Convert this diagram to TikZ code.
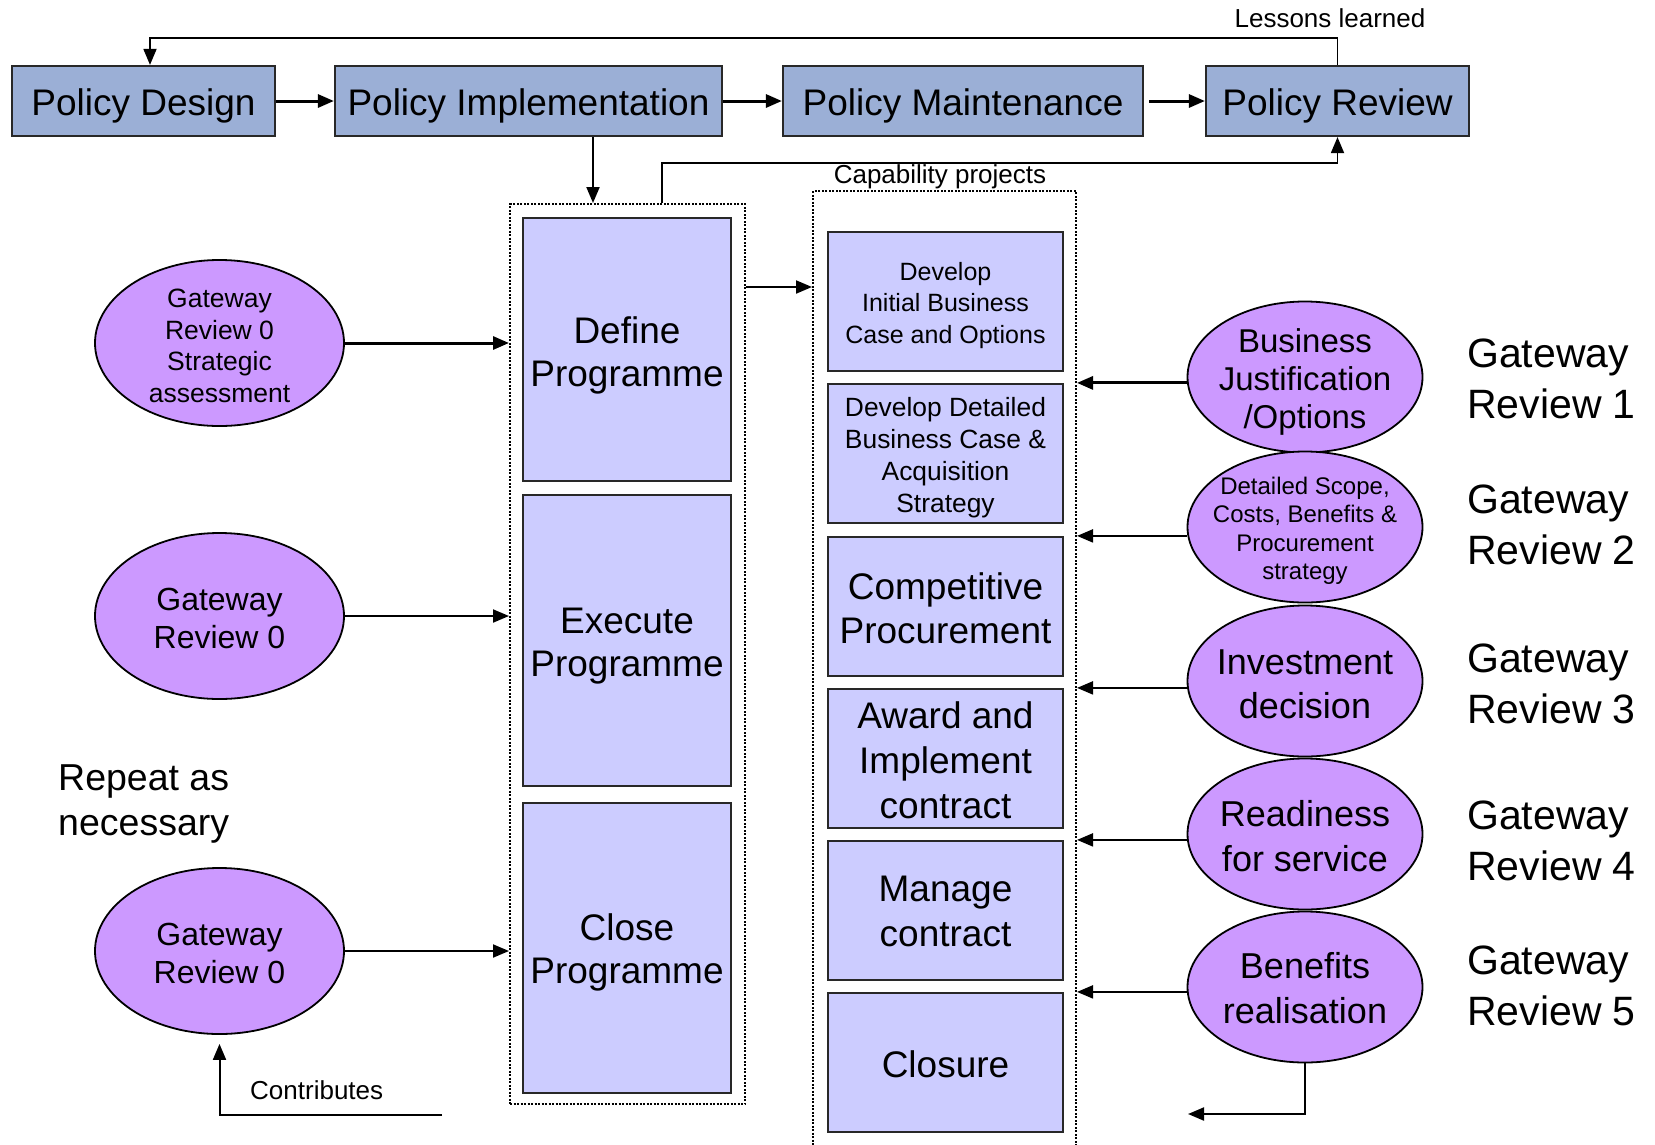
\documentclass[tikz,border=0pt]{standalone}
\usepackage{fontspec}
\setmainfont{Liberation Sans}
\usetikzlibrary{arrows.meta,shapes.geometric}
\definecolor{topfill}{RGB}{155,175,214}
\definecolor{progfill}{RGB}{204,204,255}
\definecolor{ellfill}{RGB}{204,153,255}
\definecolor{edgegray}{RGB}{40,40,40}
\newcommand{\fsz}[2]{\fontsize{#1}{#2}\selectfont}
\begin{document}
\begin{tikzpicture}[x=1pt,y=-1pt,
  topbox/.style={draw=edgegray,fill=topfill,line width=2.2pt,inner sep=0pt,minimum height=70pt},
  progbox/.style={draw=edgegray,fill=progfill,line width=2.2pt,inner sep=0pt},
  gate/.style={ellipse,draw=black,fill=ellfill,line width=1.8pt,inner sep=0pt},
  gtext/.style={inner sep=0pt,align=center},
  container/.style={draw=black,line width=2pt,dash pattern=on 2pt off 1.5pt},
  conn/.style={line width=2pt,-{Triangle[length=16pt,width=13pt]}},
  thickconn/.style={conn,line width=3pt},
  thinline/.style={line width=1.8pt,-{Triangle[length=16pt,width=13pt]}},
  lbl/.style={inner sep=0pt,align=left},
]
\useasboundingbox (0,0) rectangle (1655,1144);

% top row
\node[topbox,minimum width=263pt] (PD) at (143.5,101) {};
\node[gtext,font=\fsz{37}{44},yshift=-5pt] (PDt) at (PD) {Policy Design};
\node[topbox,minimum width=387pt] (PI) at (528.5,101) {};
\node[gtext,font=\fsz{37}{44},yshift=-5pt] (PIt) at (PI) {Policy Implementation};
\node[topbox,minimum width=360pt] (PM) at (963,101) {};
\node[gtext,font=\fsz{37}{44},yshift=-5pt] (PMt) at (PM) {Policy Maintenance};
\node[topbox,minimum width=263pt] (PR) at (1337.5,101) {};
\node[gtext,font=\fsz{37}{44},yshift=-5pt] (PRt) at (PR) {Policy Review};

\draw[thickconn] (PD.east) -- (PI.west);
\draw[thickconn] (PI.east) -- (PM.west);
\draw[thickconn,shorten <=5pt] (PM.east) -- (PR.west);

\coordinate (LLc) at (150,38);
\draw[thinline] (PR.north) |- (LLc) -- (LLc |- PD.north);
\node[lbl,anchor=base,font=\fsz{26}{30}] (LLt) at (1330,27) {Lessons learned};

% containers
\node[container,minimum width=235pt,minimum height=900pt,inner sep=0pt] (LC) at (627.5,654) {};
\node[container,minimum width=263pt,minimum height=979pt,inner sep=0pt] (RC) at (944.5,680.5) {};

\draw[conn] (PI.south -| 593,0) -- (LC.north -| 593,0);
\draw[thinline] (LC.north -| 662,0) |- (PR.south |- 0,163) -- (PR.south);
\node[lbl,anchor=base,font=\fsz{26}{30}] (CPt) at (940,183) {Capability projects};
\draw[conn] (LC.east |- 0,287) -- (RC.west |- 0,287);

% programme boxes
\node[progbox,minimum width=208pt,minimum height=263pt] (DP) at (627,349.5) {};
\node[gtext,font=\fsz{37}{43},yshift=-6pt] (DPt) at (DP) {Define\\Programme};
\node[progbox,minimum width=208pt,minimum height=291pt] (EP) at (627,640.5) {};
\node[gtext,font=\fsz{37}{43},yshift=-6pt] (EPt) at (EP) {Execute\\Programme};
\node[progbox,minimum width=208pt,minimum height=290pt] (CP) at (627,948) {};
\node[gtext,font=\fsz{37}{43},yshift=-4pt] (CPt2) at (CP) {Close\\Programme};

% project boxes
\node[progbox,minimum width=235pt,minimum height=139pt] (RB1) at (945.5,301.5) {};
\node[gtext,font=\fsz{25}{31.5},yshift=-4pt] (RB1t) at (RB1) {Develop\\Initial Business\\Case and Options};
\node[progbox,minimum width=235pt,minimum height=139pt] (RB2) at (945.5,453.5) {};
\node[gtext,font=\fsz{26.4}{32},yshift=-4pt] (RB2t) at (RB2) {Develop Detailed\\Business Case \&\\Acquisition\\Strategy};
\node[progbox,minimum width=235pt,minimum height=139pt] (RB3) at (945.5,606.5) {};
\node[gtext,font=\fsz{37}{44},yshift=-2pt] (RB3t) at (RB3) {Competitive\\Procurement};
\node[progbox,minimum width=235pt,minimum height=139pt] (RB4) at (945.5,758.5) {};
\node[gtext,font=\fsz{37}{45},yshift=-2pt] (RB4t) at (RB4) {Award and\\Implement\\contract};
\node[progbox,minimum width=235pt,minimum height=139pt] (RB5) at (945.5,910.5) {};
\node[gtext,font=\fsz{37}{45},yshift=-1pt] (RB5t) at (RB5) {Manage\\contract};
\node[progbox,minimum width=235pt,minimum height=139pt] (RB6) at (945.5,1062.5) {};
\node[gtext,font=\fsz{37}{45},yshift=-2pt] (RB6t) at (RB6) {Closure};

% left gateway ellipses
\node[gate,minimum width=249pt,minimum height=166pt] (L1) at (219.5,343) {};
\node[gtext,font=\fsz{26.5}{31.7},yshift=-3pt] (L1t) at (L1) {Gateway\\Review 0\\Strategic\\assessment};
\node[gate,minimum width=249pt,minimum height=166pt] (L2) at (219.5,616) {};
\node[gtext,font=\fsz{32}{38},yshift=-2pt] (L2t) at (L2) {Gateway\\Review 0};
\node[gate,minimum width=249pt,minimum height=166pt] (L3) at (219.5,951) {};
\node[gtext,font=\fsz{32}{38},yshift=-2pt] (L3t) at (L3) {Gateway\\Review 0};

\draw[thickconn] (L1.east) -- (L1.east -| LC.west);
\draw[conn] (L2.east) -- (L2.east -| LC.west);
\draw[conn] (L3.east) -- (L3.east -| LC.west);

\node[lbl,anchor=west,font=\fsz{37.5}{45}] (RPt) at (58,804) {Repeat as\\necessary};

\coordinate (CSc) at (442,1115);
\draw[conn,shorten >=9pt] (CSc) -| (L3.south);
\node[lbl,anchor=base west,font=\fsz{26}{30}] (CTt) at (250,1099) {Contributes};

% right gateway ellipses
\node[gate,minimum width=235pt,minimum height=151pt] (E1) at (1305,377) {};
\node[gtext,font=\fsz{33}{38},yshift=-5pt] (E1t) at (E1) {Business\\Justification\\/Options};
\node[gate,minimum width=235pt,minimum height=151pt] (E2) at (1305,527) {};
\node[gtext,font=\fsz{24}{28.5},yshift=-4pt] (E2t) at (E2) {Detailed Scope,\\Costs, Benefits \&\\Procurement\\strategy};
\node[gate,minimum width=235pt,minimum height=151pt] (E3) at (1305,681) {};
\node[gtext,font=\fsz{36}{44},yshift=-3pt] (E3t) at (E3) {Investment\\decision};
\node[gate,minimum width=235pt,minimum height=151pt] (E4) at (1305,834) {};
\node[gtext,font=\fsz{36}{45},yshift=-2pt] (E4t) at (E4) {Readiness\\for service};
\node[gate,minimum width=235pt,minimum height=151pt] (E5) at (1305,987) {};
\node[gtext,font=\fsz{36}{45},yshift=-1pt] (E5t) at (E5) {Benefits\\realisation};

\draw[thickconn] (E1.west |- RB2.north) -- (RC.east |- RB2.north);
\draw[conn] (E2.west |- RB3.north) -- (RC.east |- RB3.north);
\draw[conn] (E3.west |- RB4.north) -- (RC.east |- RB4.north);
\draw[conn] (E4.west |- RB5.north) -- (RC.east |- RB5.north);
\draw[conn] (E5.west |- RB6.north) -- (RC.east |- RB6.north);

\coordinate (BEc) at (1188,1114);
\draw[conn] (E5.south) |- (BEc);

% gateway review labels
\node[lbl,anchor=west,font=\fsz{41}{51}] (G1) at (1467,379) {Gateway\\Review 1};
\node[lbl,anchor=west,font=\fsz{41}{51}] (G2) at (1467,525) {Gateway\\Review 2};
\node[lbl,anchor=west,font=\fsz{41}{51}] (G3) at (1467,684) {Gateway\\Review 3};
\node[lbl,anchor=west,font=\fsz{41}{51}] (G4) at (1467,841) {Gateway\\Review 4};
\node[lbl,anchor=west,font=\fsz{41}{51}] (G5) at (1467,986) {Gateway\\Review 5};
\end{tikzpicture}
\end{document}
